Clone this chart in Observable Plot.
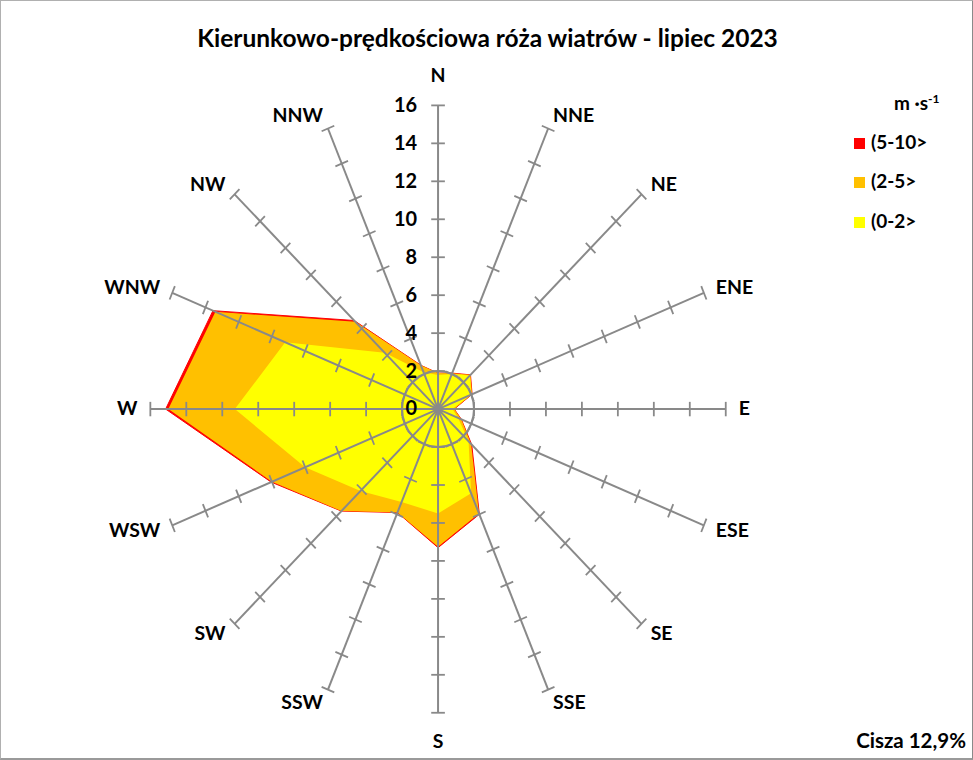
<!DOCTYPE html>
<html>
<head>
<meta charset="utf-8">
<script src="https://cdn.jsdelivr.net/npm/d3@7"></script>
<script src="https://cdn.jsdelivr.net/npm/@observablehq/plot@0.6"></script>
<style>
  html, body { margin: 0; padding: 0; background: #fff; }
  #wrap { position: relative; width: 971px; height: 757px; border: 1px solid #b0b0b0; border-right: 2px solid #8a8a8a; border-bottom: 2px solid #9a9a9a; background: #fff; font-family: Lato, "Open Sans", sans-serif; font-weight: bold; color: #000; overflow: hidden; }
  #chart { position: absolute; left: -1px; top: -1px; }
  .t { position: absolute; white-space: nowrap; }
  #title { left: 0; width: 973px; top: 22px; text-align: center; font-size: 24.5px; }
  .leg { position: absolute; font-size: 19px; }
  .sw { position: absolute; width: 11px; height: 11px; }
  #cisza { right: 6px; top: 727px; font-size: 20.5px; }
</style>
</head>
<body>
<div id="wrap">
  <div id="chart"></div>
  <div class="t" id="title">Kierunkowo-prędkościowa róża wiatrów - lipiec 2023</div>
  <div class="t leg" style="left:893px; top:90px; font-size:19px;">m ·s<sup style="font-size:12px">-1</sup></div>
  <div class="sw" style="left:853px; top:137px; background:#FF0000"></div>
  <div class="t leg" style="left:870px; top:129px;">(5-10&gt;</div>
  <div class="sw" style="left:853px; top:176px; background:#FFC000"></div>
  <div class="t leg" style="left:870px; top:168px;">(2-5&gt;</div>
  <div class="sw" style="left:853px; top:216px; background:#FFFF00"></div>
  <div class="t leg" style="left:870px; top:208px;">(0-2&gt;</div>
  <div class="t" id="cisza">Cisza 12,9%</div>
</div>
<script>
// ---- data ----
const directions = ["N","NNE","NE","ENE","E","ESE","SE","SSE","S","SSW","SW","WSW","W","WNW","NW","NNW"];
// frequency (%) per speed class, by direction
const speed0to2  = [1.8, 2.0, 2.5, 2.0, 0.8, 1.2, 2.4, 4.8, 5.5, 5.3, 6.1, 8.0, 11.3, 9.2, 4.2, 2.1];
const speed2to5  = [0.1, 0.05, 0.05, 0.05, 0.1, 0.2, 0.2, 1.15, 1.75, 0.6, 1.5, 2.0, 3.7, 4.2, 2.3, 0.4];
const speed5to10 = [0, 0, 0, 0, 0, 0, 0.05, 0.05, 0.05, 0, 0, 0.05, 0.15, 0.15, 0.1, 0];
const radialTicks = [0, 2, 4, 6, 8, 10, 12, 14, 16];
const radialMax = 16;
const calmRing = 2;

// ---- helpers ----
const ang = i => i * Math.PI / 8;
const px = (r, i) => r * Math.sin(ang(i));
const py = (r, i) => r * Math.cos(ang(i));

const layer = vals => vals.map((r, i) => ({x: px(r, i), y: py(r, i)}));
const cumYellow = speed0to2;
const cumOrange = speed0to2.map((v, i) => v + speed2to5[i]);
const cumRed = cumOrange.map((v, i) => v + speed5to10[i]);

const spokes = directions.map((d, i) => ({x2: px(radialMax, i), y2: py(radialMax, i)}));
const tickLen = 0.38;
const tickMarks = [];
directions.forEach((d, i) => {
  radialTicks.filter(t => t > 0).forEach(t => {
    const a = ang(i);
    const cx = px(t, i), cy = py(t, i);
    tickMarks.push({x1: cx + tickLen * Math.cos(a), y1: cy - tickLen * Math.sin(a),
                    x2: cx - tickLen * Math.cos(a), y2: cy + tickLen * Math.sin(a)});
  });
});
const ring = directions.map((d, i) => ({x: px(calmRing, i), y: py(calmRing, i)}));

const labels = directions.map((d, i) => {
  const s = Math.sin(ang(i)), c = Math.cos(ang(i));
  const r = Math.abs(s) < 0.1 ? 17.55 : 16.72;
  return {name: d, x: r * s, y: r * c, anchor: s > 0.1 ? "start" : s < -0.1 ? "end" : "middle"};
});

const gray = "#898989";
const font = "Lato, 'Open Sans', sans-serif";

const chart = Plot.plot({
  width: 973,
  height: 760,
  margin: 0,
  style: {fontFamily: font, background: "transparent"},
  x: {domain: [-16, 16], range: [150, 726], axis: null},
  y: {domain: [-16, 16], range: [713, 105], axis: null},
  marks: [
    Plot.line(layer(cumRed), {x: "x", y: "y", curve: "linear-closed", fill: "#FF0000", stroke: "#FF0000", strokeWidth: 1}),
    Plot.line(layer(cumOrange), {x: "x", y: "y", curve: "linear-closed", fill: "#FFC000", stroke: "none"}),
    Plot.line(layer(cumYellow), {x: "x", y: "y", curve: "linear-closed", fill: "#FFFF00", stroke: "none"}),
    Plot.link(spokes, {x1: 0, y1: 0, x2: "x2", y2: "y2", stroke: gray, strokeWidth: 2}),
    Plot.link(tickMarks, {x1: "x1", y1: "y1", x2: "x2", y2: "y2", stroke: gray, strokeWidth: 1.8}),
    Plot.line(ring, {x: "x", y: "y", curve: "catmull-rom-closed", stroke: gray, strokeWidth: 2}),
    Plot.dot([0], {x: 0, y: 0, r: 4, fill: gray, stroke: "none"}),
    Plot.text(radialTicks, {x: 0, y: d => d, text: d => String(d), textAnchor: "end", dx: -21, fontSize: 20, fontWeight: "bold", fill: "#000"}),
    ...["start", "middle", "end"].map(a =>
      Plot.text(labels.filter(l => l.anchor === a), {x: "x", y: "y", text: "name", textAnchor: a, fontSize: 19.5, fontWeight: "bold", fill: "#000"}))
  ]
});
document.getElementById("chart").appendChild(chart);
</script>
</body>
</html>
